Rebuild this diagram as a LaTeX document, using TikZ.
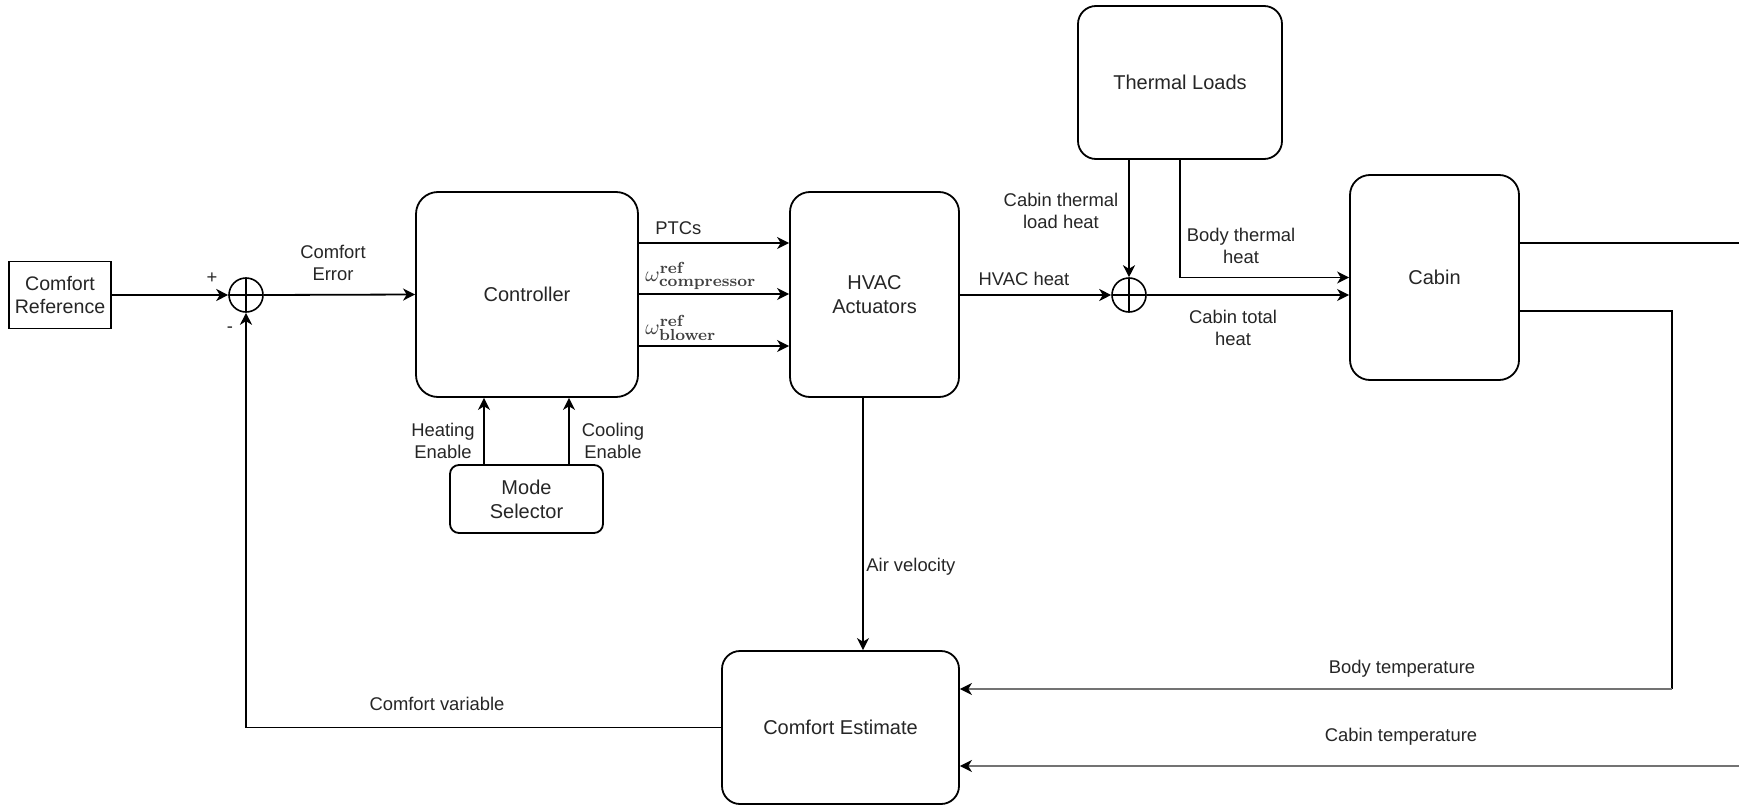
\documentclass[tikz,border=0pt]{standalone}
\usepackage[no-math]{fontspec}
\setmainfont{Liberation Sans}
\usetikzlibrary{arrows.meta,calc}

\begin{document}
\begin{tikzpicture}[x=0.5pt,y=-0.5pt,
  blk/.style={draw=black, line width=0.9pt, fill=white, align=center, inner sep=0pt,
    text=black!85, font=\fontsize{10}{12}\selectfont},
  sumnode/.style={draw=black, circle, minimum size=17pt, inner sep=0pt, line width=0.8pt,
    path picture={\draw[line width=0.7pt]
      (path picture bounding box.north) -- (path picture bounding box.south)
      (path picture bounding box.west) -- (path picture bounding box.east);}},
  lbl/.style={font=\fontsize{9.2}{11}\selectfont, align=center, inner sep=0pt, text=black!85},
  mlbl/.style={font=\fontsize{11}{13}\selectfont, inner sep=0pt, text=black!75},
  arr/.style={line width=0.9pt, -{Stealth[length=6pt,width=6pt,inset=1.8pt,color=black]}},
  wire/.style={line width=0.9pt},
]
\useasboundingbox (0,0) rectangle (1739,808);
\fill[white] (0,0) rectangle (1739,808);

% ---- blocks ----
\node[blk, minimum width=51pt, minimum height=33.5pt, font=\fontsize{9.8}{11.5}\selectfont]
  (ref) at (60,295) {Comfort\\Reference};
\node[sumnode] (sum1) at (246,295) {};
\node[blk, rounded corners=11pt, minimum width=111pt, minimum height=102.5pt]
  (ctrl) at (527,294.5) {Controller};
\node[blk, rounded corners=10pt, minimum width=84.5pt, minimum height=102.5pt]
  (hvac) at (874.5,294.5) {HVAC\\Actuators};
\node[blk, rounded corners=4.5pt, minimum width=76.5pt, minimum height=34pt]
  (mode) at (526.5,499) {Mode\\Selector};
\node[blk, rounded corners=9pt, minimum width=102pt, minimum height=76.5pt]
  (therm) at (1180,82.5) {Thermal Loads};
\node[sumnode] (sum2) at (1129,295) {};
\node[blk, rounded corners=10pt, minimum width=84.5pt, minimum height=102.5pt]
  (cabin) at (1434.5,277.5) {Cabin};
\node[blk, rounded corners=9pt, minimum width=118.5pt, minimum height=76.5pt]
  (est) at (840.5,727.5) {Comfort Estimate};

% ---- helper levels ----
\coordinate (yPTC) at (0,243);
\coordinate (yCmp) at (0,294);
\coordinate (yBlw) at (0,346);
\coordinate (xHeat) at (484,0);
\coordinate (xCool) at (569,0);
\coordinate (xAir) at (863,0);
\coordinate (yOutA) at (0,243);
\coordinate (yOutB) at (0,311);
\coordinate (edgeA) at (1739,243);
\coordinate (bodyCorner) at (1672,689);
\coordinate (edgeB) at (1739,766);

% ---- forward path ----
\draw[arr] (ref.east) -- (sum1.west);
\node[lbl] (plus) at (212,278) {+};
\node[lbl] (minus) at (230,330) {-};
\draw[arr] (sum1.east) -- (ctrl.west);
\node[lbl] (errl) at (333,263) {Comfort\\Error};

\draw[arr] (ctrl.east |- yPTC) -- (hvac.west |- yPTC);
\draw[arr] (ctrl.east |- yCmp) -- (hvac.west |- yCmp);
\draw[arr] (ctrl.east |- yBlw) -- (hvac.west |- yBlw);
\node[lbl, anchor=west] (ptcl) at (655,228) {PTCs};
\node[mlbl, anchor=west] (cmpl) at (645,276) {$\omega^{\mathbf{ref}}_{\mathbf{compressor}}$};
\node[mlbl, anchor=west] (blwl) at (645,328) {$\omega^{\mathbf{ref}}_{\mathbf{blower}}$};

\draw[arr] (mode.north -| xHeat) -- (ctrl.south -| xHeat);
\draw[arr] (mode.north -| xCool) -- (ctrl.south -| xCool);
\node[lbl] (heatl) at (443,441) {Heating\\Enable};
\node[lbl] (cooll) at (613,441) {Cooling\\Enable};

\draw[arr] (hvac.east |- sum2) -- (sum2.west);
\node[lbl] (hvhl) at (1024,279) {HVAC heat};
\draw[arr] (sum2 |- therm.south) -- (sum2.north);
\node[lbl] (ctll) at (1061,211) {Cabin thermal\\load heat};
\draw[arr] (therm.south) |- (cabin.west);
\node[lbl] (btl) at (1241,246) {Body thermal\\heat};
\draw[arr] (sum2.east) -- (sum2.east -| cabin.west);
\node[lbl] (cthl) at (1233,328) {Cabin total\\heat};

% ---- cabin outputs and feedback ----
\draw[wire] (cabin.east |- yOutA) -- (edgeA);
\draw[wire] (cabin.east |- yOutB) -| (bodyCorner);
\draw[arr, draw=black!55, line width=1.1pt] (bodyCorner) -- (est.east |- bodyCorner);
\node[lbl] (btl2) at (1402,669) {Body temperature};
\draw[arr, draw=black!55, line width=1.1pt] (edgeB) -- (est.east |- edgeB);
\node[lbl] (ctl2) at (1401,737) {Cabin temperature};

\draw[arr] (hvac.south -| xAir) -- (est.north -| xAir);
\node[lbl, anchor=west] (airl) at (866,567) {Air velocity};

\draw[arr] (est.west) -| (sum1.south);
\node[lbl] (cvl) at (437,704) {Comfort variable};
\end{tikzpicture}
\end{document}
